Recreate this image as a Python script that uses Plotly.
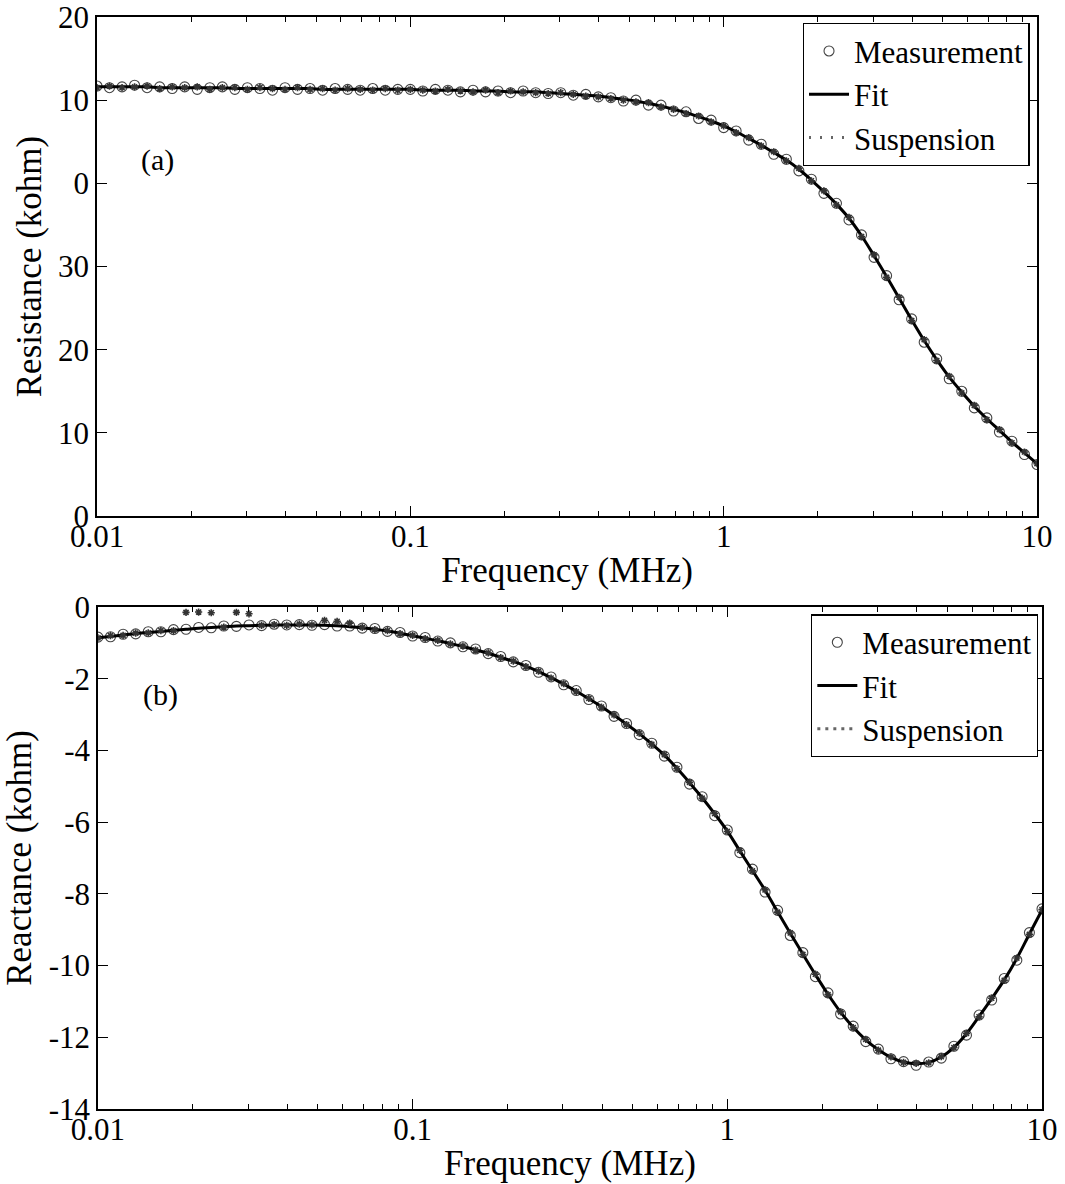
import plotly.graph_objects as go

# Frequency grid: 25 points per decade from 0.01 MHz to 10 MHz
MANTISSA = [1.000, 1.096, 1.202, 1.318, 1.445, 1.585, 1.738, 1.905, 2.089, 2.291,
            2.512, 2.754, 3.020, 3.311, 3.631, 3.981, 4.365, 4.786, 5.248, 5.754,
            6.310, 6.918, 7.586, 8.318, 9.120]
DECADES = [0.01, 0.1, 1.0]
FREQ_MHZ = [round(m * d, 6) for d in DECADES for m in MANTISSA] + [10.0]

# Resistance (kohm)
RES_MEAS = [51.7, 51.5, 51.6, 51.8, 51.5, 51.6, 51.4, 51.6, 51.3, 51.5,
            51.6, 51.3, 51.5, 51.4, 51.2, 51.5, 51.3, 51.4, 51.2, 51.4,
            51.3, 51.2, 51.4, 51.2, 51.3, 51.3, 51.1, 51.3, 51.2, 51.0,
            51.2, 51.0, 51.1, 50.9, 51.1, 50.9, 50.8, 50.9, 50.6, 50.7,
            50.4, 50.3, 49.9, 50.0, 49.4, 49.4, 48.7, 48.6, 47.8, 47.6,
            46.7, 46.3, 45.2, 44.7, 43.5, 42.9, 41.5, 40.5, 38.8, 37.6,
            35.6, 33.8, 31.1, 28.9, 26.0, 23.7, 20.9, 18.9, 16.5, 15.0,
            13.0, 11.8, 10.1, 9.0, 7.4, 6.2]
RES_FIT = [51.6, 51.6, 51.6, 51.6, 51.6, 51.5, 51.5, 51.5, 51.5, 51.5,
           51.5, 51.4, 51.4, 51.4, 51.4, 51.4, 51.4, 51.4, 51.3, 51.3,
           51.3, 51.3, 51.3, 51.3, 51.3, 51.3, 51.2, 51.2, 51.2, 51.2,
           51.1, 51.1, 51.1, 51.0, 51.0, 51.0, 50.9, 50.8, 50.7, 50.6,
           50.5, 50.3, 50.1, 49.9, 49.6, 49.3, 48.9, 48.5, 48.0, 47.5,
           46.9, 46.2, 45.4, 44.6, 43.7, 42.8, 41.7, 40.4, 39.0, 37.5,
           35.8, 33.7, 31.3, 28.8, 26.2, 23.6, 21.1, 18.8, 16.7, 14.9,
           13.2, 11.7, 10.3, 8.9, 7.6, 6.3]
RES_SUSP = [51.5, 51.7, 51.5, 51.6, 51.7, 51.4, 51.6, 51.5, 51.6, 51.3,
            51.5, 51.5, 51.3, 51.5, 51.4, 51.3, 51.5, 51.3, 51.4, 51.2,
            51.4, 51.3, 51.2, 51.4, 51.2, 51.3, 51.2, 51.1, 51.3, 51.1,
            51.0, 51.2, 50.9, 51.1, 51.0, 50.9, 50.8, 50.9, 50.7, 50.5,
            50.4, 50.2, 50.0, 49.8, 49.7, 49.2, 48.9, 48.4, 48.1, 47.4,
            46.9, 46.1, 45.5, 44.5, 43.8, 42.7, 41.8, 40.3, 39.1, 37.4,
            35.9, 33.6, 31.4, 28.7, 26.3, 23.5, 21.2, 18.7, 16.8, 14.8,
            13.3, 11.6, 10.4, 8.8, 7.7, 6.3]

# Reactance (kohm)
REA_MEAS = [-0.84, -0.83, -0.76, -0.75, -0.69, -0.69, -0.63, -0.62, -0.57, -0.58,
            -0.53, -0.54, -0.50, -0.52, -0.48, -0.50, -0.49, -0.51, -0.49, -0.53,
            -0.53, -0.59, -0.60, -0.68, -0.71, -0.81, -0.85, -0.95, -1.00, -1.11,
            -1.17, -1.30, -1.38, -1.53, -1.63, -1.82, -1.95, -2.17, -2.33, -2.58,
            -2.76, -3.05, -3.25, -3.56, -3.80, -4.16, -4.47, -4.94, -5.29, -5.82,
            -6.22, -6.85, -7.31, -7.95, -8.46, -9.16, -9.64, -10.31, -10.76, -11.35,
            -11.69, -12.12, -12.33, -12.60, -12.68, -12.78, -12.69, -12.58, -12.25, -11.94,
            -11.38, -10.96, -10.36, -9.85, -9.08, -8.42]
REA_FIT = [-0.86, -0.82, -0.78, -0.74, -0.71, -0.68, -0.65, -0.62, -0.59, -0.57,
           -0.55, -0.53, -0.52, -0.51, -0.50, -0.50, -0.50, -0.50, -0.51, -0.52,
           -0.55, -0.58, -0.62, -0.67, -0.73, -0.80, -0.87, -0.94, -1.02, -1.10,
           -1.19, -1.29, -1.40, -1.52, -1.65, -1.80, -1.97, -2.15, -2.35, -2.56,
           -2.78, -3.02, -3.27, -3.53, -3.82, -4.13, -4.50, -4.90, -5.32, -5.77,
           -6.25, -6.80, -7.35, -7.90, -8.50, -9.10, -9.68, -10.25, -10.80, -11.30,
           -11.72, -12.07, -12.35, -12.56, -12.69, -12.74, -12.70, -12.55, -12.28, -11.90,
           -11.42, -10.92, -10.40, -9.80, -9.12, -8.45]
REA_SUSP = [-0.86, -0.80, -0.79, -0.73, -0.72, -0.66, -0.66, -0.15, -0.14, -0.16,
            -0.56, -0.15, -0.19, -0.51, -0.49, -0.51, -0.48, -0.50, -0.37, -0.40,
            -0.45, -0.57, -0.63, -0.66, -0.74, -0.79, -0.88, -0.93, -1.03, -1.09,
            -1.20, -1.28, -1.41, -1.51, -1.66, -1.79, -1.98, -2.14, -2.36, -2.55,
            -2.79, -3.01, -3.28, -3.52, -3.83, -4.12, -4.51, -4.89, -5.33, -5.76,
            -6.26, -6.79, -7.36, -7.89, -8.51, -9.09, -9.69, -10.24, -10.81, -11.29,
            -11.73, -12.06, -12.36, -12.55, -12.70, -12.73, -12.71, -12.54, -12.29, -11.89,
            -11.43, -10.91, -10.41, -9.79, -9.13, -8.44]

X_TICKS = [0.01, 0.1, 1, 10]
X_TICK_TEXT = ["0.01", "0.1", "1", "10"]
X_MINOR = [m * d for d in DECADES for m in range(2, 10)]
RES_TICKS = [0, 10, 20, 30, 40, 50, 60]
RES_TICK_TEXT = ["0", "10", "20", "30", "0", "10", "20"]
REA_TICKS = [0, -2, -4, -6, -8, -10, -12, -14]
REA_TICK_TEXT = ["0", "-2", "-4", "-6", "-8", "-10", "-12", "-14"]

FONT = "Liberation Serif, Times New Roman, serif"
TICK_FONT = dict(family=FONT, size=31, color="black")
TITLE_FONT = dict(family=FONT, size=35, color="black")

fig = go.Figure()


def add_panel(y_meas, y_fit, y_susp, xa, ya, legend, dot_dash):
    fig.add_trace(go.Scatter(
        x=FREQ_MHZ, y=y_meas, mode="markers", name="Measurement",
        marker=dict(symbol="circle-open", size=10, color="#444",
                    line=dict(width=1.1, color="#444")),
        xaxis=xa, yaxis=ya, legend=legend))
    fig.add_trace(go.Scatter(
        x=FREQ_MHZ, y=y_fit, mode="lines", name="Fit",
        line=dict(color="black", width=3, shape="spline"),
        xaxis=xa, yaxis=ya, legend=legend))
    fig.add_trace(go.Scatter(
        x=FREQ_MHZ, y=y_susp, mode="markers", name="Suspension",
        showlegend=False,
        marker=dict(symbol="asterisk-open", size=6, color="#333",
                    line=dict(width=1.6, color="#333")),
        xaxis=xa, yaxis=ya))
    # legend glyph for the suspension series (dotted)
    fig.add_trace(go.Scatter(
        x=[None], y=[None], mode="lines", name="Suspension",
        line=dict(color="#666", width=3, dash=dot_dash),
        xaxis=xa, yaxis=ya, legend=legend))


add_panel(RES_MEAS, RES_FIT, RES_SUSP, "x", "y", "legend", "2px,9px")
add_panel(REA_MEAS, REA_FIT, REA_SUSP, "x2", "y2", "legend2", "3px,5px")


def x_axis(domain, anchor):
    return dict(
        type="log", range=[-2, 1], domain=domain, anchor=anchor,
        tickvals=X_TICKS, ticktext=X_TICK_TEXT, automargin=False,
        ticklabeloverflow="allow",
        ticks="inside", ticklen=10, tickwidth=1.3, tickcolor="black",
        ticklabelstandoff=-8,
        minor=dict(tickvals=X_MINOR, ticks="inside", ticklen=5,
                   tickwidth=1, tickcolor="black", showgrid=False),
        showline=True, linecolor="black", linewidth=1.5, mirror="ticks",
        showgrid=False, zeroline=False, tickfont=TICK_FONT,
        title=dict(text="Frequency (MHz)", font=TITLE_FONT, standoff=5))


def y_axis(domain, anchor, rng, tv, tt, title):
    return dict(
        range=rng, domain=domain, anchor=anchor, automargin=False,
        ticklabeloverflow="allow",
        tickvals=tv, ticktext=tt,
        ticks="inside", ticklen=10, tickwidth=1.3, tickcolor="black",
        showline=True, linecolor="black", linewidth=1.5, mirror="ticks",
        showgrid=False, zeroline=False, tickfont=TICK_FONT,
        title=dict(text=title, font=TITLE_FONT, standoff=6))


legend_style = dict(
    xanchor="right", yanchor="top", bgcolor="white",
    bordercolor="black", borderwidth=1.3,
    font=dict(family=FONT, size=31, color="black"),
    itemwidth=40, tracegroupgap=0)

fig.update_layout(
    width=1065, height=1184,
    margin=dict(l=97, r=23, t=17, b=75),
    font=dict(family=FONT, color="black"),
    paper_bgcolor="white", plot_bgcolor="white",
    xaxis=x_axis([0, 0.9947], "y"),
    yaxis=y_axis([0.543, 1], "x", [0, 60], RES_TICKS, RES_TICK_TEXT,
                 "Resistance (kohm)"),
    xaxis2=x_axis([0.001, 1], "y2"),
    yaxis2=y_axis([0, 0.4597], "x2", [-14, 0], REA_TICKS, REA_TICK_TEXT,
                  "Reactance (kohm)"),
    legend=dict(x=0.987, y=0.9945, **legend_style),
    legend2=dict(x=0.9958, y=0.453, **legend_style),
    annotations=[
        dict(text="(a)", xref="paper", yref="paper", x=0.0635, y=0.869,
             xanchor="center", yanchor="middle", showarrow=False,
             font=dict(family=FONT, size=30, color="black")),
        dict(text="(b)", xref="paper", yref="paper", x=0.0667, y=0.379,
             xanchor="center", yanchor="middle", showarrow=False,
             font=dict(family=FONT, size=30, color="black")),
    ],
)

fig.write_html("out.html")
